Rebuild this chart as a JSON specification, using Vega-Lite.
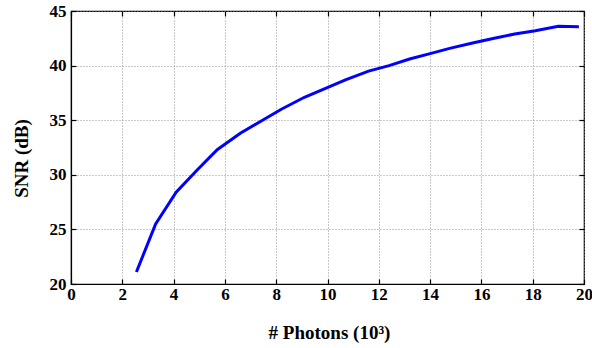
{
  "$schema": "https://vega.github.io/schema/vega-lite/v6.json",
  "autosize": {"type": "none"},
  "width": 513,
  "height": 273,
  "padding": {"left": 71, "top": 11, "right": 8, "bottom": 64},
  "background": "white",
  "config": {
    "view": {"stroke": "black", "strokeWidth": 1.2},
    "axis": {
      "labelFont": "Liberation Serif",
      "labelFontWeight": "bold",
      "labelFontSize": 17,
      "labelColor": "black",
      "titleFont": "Liberation Serif",
      "titleFontWeight": "bold",
      "titleFontSize": 19,
      "titleColor": "black",
      "domainColor": "black",
      "domainWidth": 1.2,
      "tickColor": "black",
      "tickWidth": 1.2,
      "gridColor": "#888888",
      "gridDash": [1, 2],
      "gridWidth": 1,
      "gridOpacity": 0.9
    }
  },
  "data": {
    "values": [
      {"photons": 2.55, "snr": 21.1},
      {"photons": 3.3, "snr": 25.5},
      {"photons": 4.1, "snr": 28.4},
      {"photons": 4.9, "snr": 30.4},
      {"photons": 5.7, "snr": 32.3},
      {"photons": 6.6, "snr": 33.8},
      {"photons": 7.4, "snr": 34.9},
      {"photons": 8.2, "snr": 36.0},
      {"photons": 9.1, "snr": 37.1},
      {"photons": 9.9, "snr": 37.9},
      {"photons": 10.7, "snr": 38.7},
      {"photons": 11.6, "snr": 39.5},
      {"photons": 12.4, "snr": 40.0},
      {"photons": 13.2, "snr": 40.6},
      {"photons": 14.0, "snr": 41.1},
      {"photons": 14.8, "snr": 41.6},
      {"photons": 15.7, "snr": 42.1},
      {"photons": 16.5, "snr": 42.5},
      {"photons": 17.3, "snr": 42.9},
      {"photons": 18.1, "snr": 43.2},
      {"photons": 19.0, "snr": 43.6},
      {"photons": 19.8, "snr": 43.55}
    ]
  },
  "layer": [
    {
      "mark": {"type": "line", "color": "#0000ff", "strokeWidth": 3, "clip": true},
      "encoding": {
        "x": {
          "field": "photons",
          "type": "quantitative",
          "scale": {"domain": [0, 20], "nice": false, "zero": false},
          "axis": {
            "orient": "bottom",
            "title": "# Photons (10³)",
            "values": [0, 2, 4, 6, 8, 10, 12, 14, 16, 18, 20],
            "tickSize": -5,
            "labelPadding": 7,
            "titleBaseline": "alphabetic",
            "titleY": 54,
            "titleX": 258,
            "labelFlush": false
          }
        },
        "y": {
          "field": "snr",
          "type": "quantitative",
          "scale": {"domain": [20, 45], "nice": false, "zero": false},
          "axis": {
            "orient": "left",
            "title": "SNR (dB)",
            "values": [20, 25, 30, 35, 40, 45],
            "tickSize": -5,
            "labelPadding": 10,
            "titleAngle": 270,
            "titleBaseline": "alphabetic",
            "titleX": -44,
            "titleY": 147,
            "labelFlush": false
          }
        }
      }
    },
    {
      "mark": {"type": "line", "opacity": 0, "clip": true},
      "encoding": {
        "x": {
          "field": "photons",
          "type": "quantitative",
          "scale": {"domain": [0, 20], "nice": false, "zero": false},
          "axis": {
            "orient": "top",
            "title": null,
            "labels": false,
            "grid": false,
            "domain": false,
            "values": [0, 2, 4, 6, 8, 10, 12, 14, 16, 18, 20],
            "tickSize": -5
          }
        },
        "y": {
          "field": "snr",
          "type": "quantitative",
          "scale": {"domain": [20, 45], "nice": false, "zero": false},
          "axis": {
            "orient": "right",
            "title": null,
            "labels": false,
            "grid": false,
            "domain": false,
            "values": [20, 25, 30, 35, 40, 45],
            "tickSize": -5
          }
        }
      }
    }
  ],
  "resolve": {"axis": {"x": "independent", "y": "independent"}}
}
